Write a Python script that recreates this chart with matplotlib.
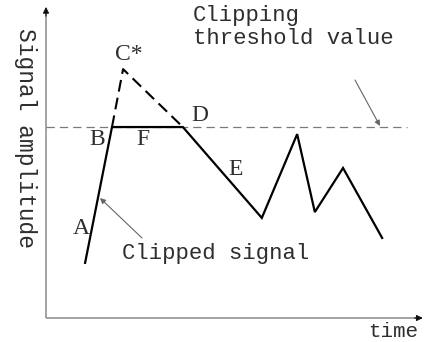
import matplotlib
matplotlib.use("Agg")
import matplotlib.pyplot as plt

plt.rcParams['lines.scale_dashes'] = False

# ---- data (arbitrary units: time 0..10, amplitude 0..10) ----
clipped_time = [1.04, 1.755, 3.64, 5.74, 6.68, 7.15, 7.90, 8.94]
clipped_amp = [1.79, 6.20, 6.20, 3.25, 5.97, 3.44, 4.87, 2.60]
orig_time = [1.755, 2.05, 3.64]
orig_amp = [6.20, 8.08, 6.20]
threshold = 6.20
threshold_end = 9.60

point_labels = ['A', 'B', 'C*', 'D', 'E', 'F']
label_pos = [(0.93, 2.92), (1.36, 5.81), (2.21, 8.54), (4.10, 6.56), (5.05, 4.81), (2.58, 5.81)]

xlabel = 'time'
ylabel = 'Signal amplitude'
note_threshold = 'Clipping\nthreshold value'
note_clipped = 'Clipped signal'

W, H = 424, 342
fig = plt.figure(figsize=(W / 100, H / 100), dpi=100)
# axes origin at pixel (46, 318), top-right at (422, 10)
ax = fig.add_axes([46 / W, (H - 318) / H, (422 - 46) / W, (318 - 10) / H])
ax.set_xlim(0, 10)
ax.set_ylim(0, 10)
ax.axis('off')

txt_color = '#2e2e2e'
mono = ['Liberation Mono', 'DejaVu Sans Mono']
serif = ['Liberation Serif', 'DejaVu Serif']

# axes with arrows
axis_col = '#8a8a8a'
ax.plot([0, 10], [0, 0], color=axis_col, lw=1.1, clip_on=False, solid_capstyle='butt')
ax.plot([0, 0], [0, 10], color=axis_col, lw=1.1, clip_on=False, solid_capstyle='butt')
ax.annotate('', xy=(10.02, 0), xytext=(9.8, 0),
            arrowprops=dict(arrowstyle='-|>', color='#111111', lw=0.8, mutation_scale=9,
                            shrinkA=0, shrinkB=0), annotation_clip=False)
ax.annotate('', xy=(0, 10.1), xytext=(0, 9.8),
            arrowprops=dict(arrowstyle='-|>', color='#111111', lw=0.8, mutation_scale=9,
                            shrinkA=0, shrinkB=0), annotation_clip=False)

# threshold dashed line
ax.plot([0, threshold_end], [threshold, threshold], color='#7a7a7a', lw=0.9,
        dashes=(6, 3.6), solid_capstyle='butt')

# original (unclipped) peak, dashed
ax.plot(orig_time, orig_amp, color='black', lw=1.5, dashes=(8.5, 4.5))

# clipped signal, solid
ax.plot(clipped_time, clipped_amp, color='black', lw=1.6, solid_joinstyle='miter')

# point labels
for lab, (tx, ty) in zip(point_labels, label_pos):
    ax.text(tx, ty, lab, fontsize=17, family=serif, color=txt_color,
            ha='center', va='center')

def px(x, y):
    return (x / W, 1 - y / H)

# annotations
fig.text(*px(193, 44), note_threshold, fontsize=16, family=mono, color=txt_color,
         ha='left', va='baseline', linespacing=1.15)
fig.text(*px(122, 259), note_clipped, fontsize=16, family=mono, color=txt_color,
         ha='left', va='baseline')
fig.text(*px(368, 337), xlabel, fontsize=15, family=mono, color=txt_color,
         ha='left', va='baseline')
fig.text(*px(25, 138), ylabel, fontsize=16.5, family=mono, color=txt_color,
         ha='center', va='center', rotation=270)

arrow_kw = dict(arrowstyle='-|>', color='#666666', lw=0.8, mutation_scale=8,
                shrinkA=0, shrinkB=0)
ax.annotate('', xy=px(380, 126), xytext=px(355, 80), xycoords='figure fraction',
            textcoords='figure fraction', arrowprops=arrow_kw)
ax.annotate('', xy=px(100, 198), xytext=px(142, 238), xycoords='figure fraction',
            textcoords='figure fraction', arrowprops=arrow_kw)

fig.savefig('out.png', dpi=100)
